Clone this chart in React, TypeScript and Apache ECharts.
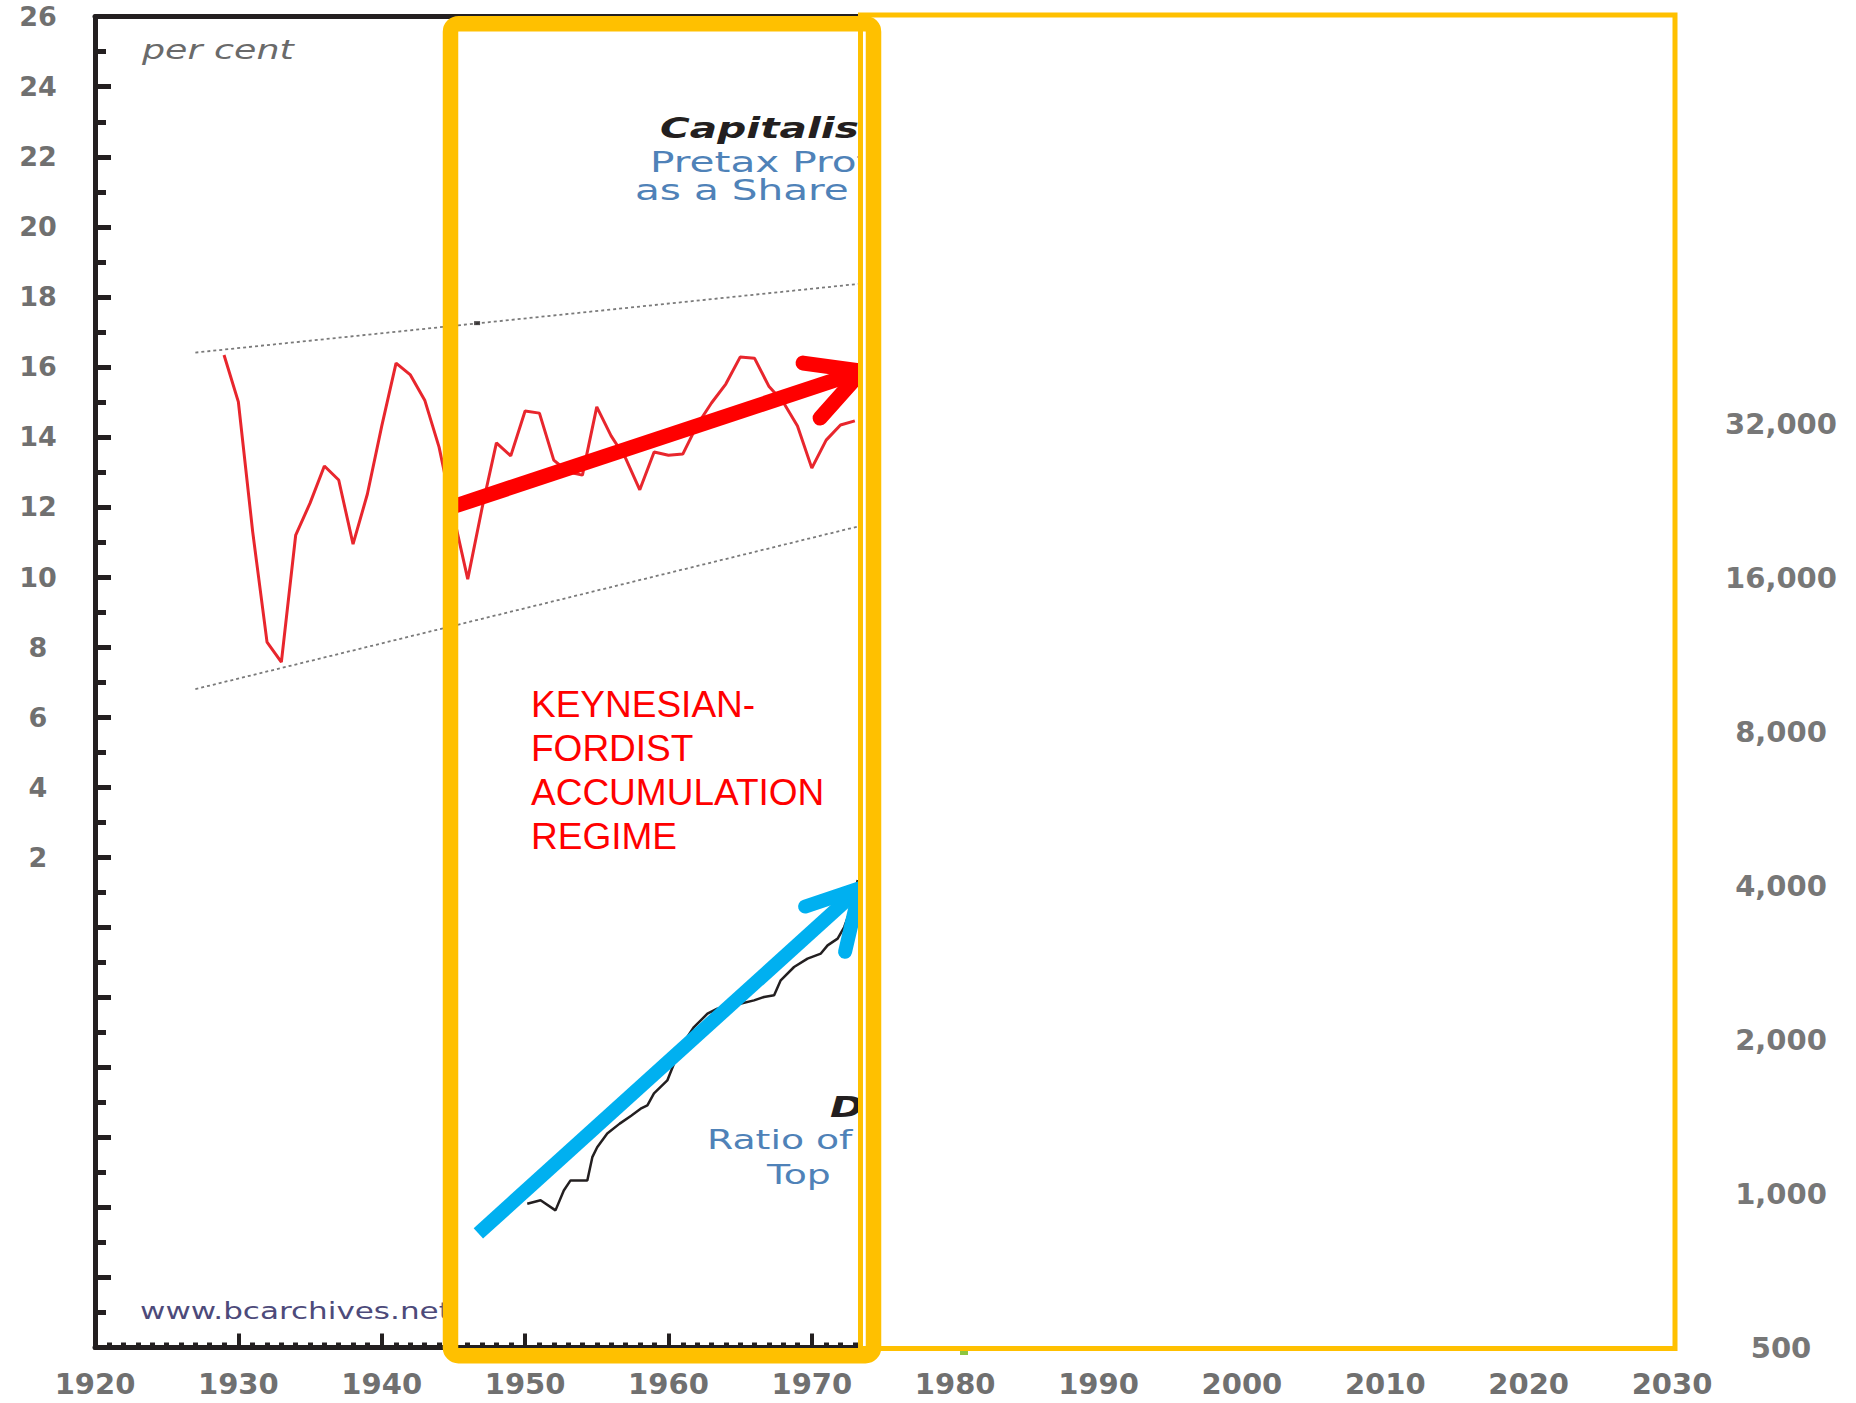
import React, { useEffect, useRef } from 'react';
import * as echarts from 'echarts';

// ---------- data ----------
const leftTickLabels: number[] = [2, 4, 6, 8, 10, 12, 14, 16, 18, 20, 22, 24, 26];
const rightTickLabels: number[] = [500, 1000, 2000, 4000, 8000, 16000, 32000];
const RIGHT_UNIT = 500;

const profitYears: number[] = [
  1929, 1930, 1931, 1932, 1933, 1934, 1935, 1936, 1937, 1938, 1939, 1940, 1941, 1942, 1943,
  1944, 1945, 1946, 1947, 1948, 1949, 1950, 1951, 1952, 1953, 1954, 1955, 1956, 1957, 1958,
  1959, 1960, 1961, 1962, 1963, 1964, 1965, 1966, 1967, 1968, 1969, 1970, 1971, 1972, 1973,
];
const profitShare: number[] = [
  16.34, 15.0, 11.29, 8.14, 7.57, 11.2, 12.11, 13.17, 12.77, 10.94, 12.37, 14.31, 16.11, 15.77, 15.05,
  13.71, 11.77, 9.94, 11.97, 13.83, 13.46, 14.74, 14.68, 13.34, 13.0, 12.91, 14.86, 14.03, 13.4, 12.49,
  13.57, 13.48, 13.51, 14.34, 14.97, 15.51, 16.28, 16.25, 15.45, 15.0, 14.31, 13.11, 13.91, 14.34, 14.46,
];

const ratioYears: number[] = [
  1950.15, 1951.08, 1952.12, 1952.7, 1953.17, 1954.34, 1954.69, 1955.03, 1955.73, 1956.6, 1957.4,
  1958.06, 1958.53, 1958.99, 1959.92, 1960.85, 1961.78, 1962.72, 1963.41, 1964.11, 1965.0, 1965.97,
  1966.67, 1967.37, 1967.83, 1968.76, 1969.7, 1970.63, 1971.1, 1971.8, 1972.26, 1972.8, 1973.2,
];
const ratioValues: number[] = [
  955, 970, 927, 1014, 1061, 1061, 1178, 1232, 1311, 1370, 1420,
  1465, 1487, 1570, 1664, 1934, 2116, 2247, 2298, 2315, 2350, 2386,
  2423, 2441, 2612, 2773, 2880, 2946, 3057, 3151, 3320, 3650, 4100,
];

const upperTrendYears: number[] = [1927, 1973.5];
const upperTrendValues: number[] = [16.41, 18.38];
const lowerTrendYears: number[] = [1927, 1973.5];
const lowerTrendValues: number[] = [6.8, 11.47];

const markYears: number[] = [1946.65];
const markValues: number[] = [17.25];

const redArrowShaftX: number[] = [1944.9, 1973.5];
const redArrowShaftY: number[] = [12.0, 15.88];
const redArrowHeadX: number[] = [1969.39, 1973.5, 1970.58];
const redArrowHeadY: number[] = [16.11, 15.88, 14.54];

const blueArrowShaftX: number[] = [1946.74, 1973.36];
const blueArrowShaftY: number[] = [-8.74, 1.12];
const blueArrowHeadX: number[] = [1969.53, 1973.36, 1972.32];
const blueArrowHeadY: number[] = [0.59, 1.12, -0.7];

const regimeLines: string[] = ['KEYNESIAN-', 'FORDIST', 'ACCUMULATION', 'REGIME'];

// ---------- helpers ----------
const pair = (xs: number[], ys: number[]) => xs.map((x, i) => [x, ys[i]]);

const ORANGE = '#FFC000';
const AXIS_FONT = 'DejaVu Sans';

function buildOption() {
  const stretchedText = (
    text: string,
    x: number,
    y: number,
    size: number,
    fill: string,
    extra: Record<string, unknown> = {},
    scaleX = 1.4,
  ) => ({
    type: 'text',
    x,
    y,
    scaleX,
    z: 50,
    silent: true,
    style: {
      text,
      fill,
      fontFamily: AXIS_FONT,
      fontSize: size,
      verticalAlign: 'middle',
      align: 'left',
      ...extra,
    },
  });

  const graphic: any[] = [
    stretchedText('per cent', 142, 50, 26, '#6a6a6a', { fontStyle: 'italic' }),
    stretchedText('Capitalism', 660, 128, 29, '#231f20', { fontWeight: 'bold', fontStyle: 'italic' }),
    stretchedText('Pretax Profits', 650, 162, 29, '#4f82b8'),
    stretchedText('as a Share of GDP', 635, 190, 29, '#4f82b8'),
    stretchedText('Dow', 830, 1107, 29, '#231f20', { fontWeight: 'bold', fontStyle: 'italic' }),
    stretchedText('Ratio of', 707, 1140, 27, '#4f82b8'),
    stretchedText('Top', 767, 1175, 27, '#4f82b8'),
    stretchedText('www.bcarchives.net', 140, 1311, 23, '#4d4a7a', {}, 1.35),
    ...regimeLines.map((t, i) => ({
      type: 'text',
      x: 531,
      y: 704 + i * 44.3,
      z: 50,
      silent: true,
      style: {
        text: t,
        fill: '#ff0000',
        fontFamily: 'Liberation Sans',
        fontSize: 37,
        verticalAlign: 'middle',
        align: 'left',
      },
    })),
    // white cover over the right half of the original chart
    {
      type: 'rect',
      z: 90,
      silent: true,
      shape: { x: 858, y: 8, width: 815, height: 1338 },
      style: { fill: '#ffffff' },
    },
    // thin orange frame
    {
      type: 'rect',
      z: 95,
      silent: true,
      shape: { x: 860.5, y: 15, width: 814.5, height: 1333.5 },
      style: { fill: 'none', stroke: ORANGE, lineWidth: 5 },
    },
    // thick orange frame
    {
      type: 'rect',
      z: 100,
      silent: true,
      shape: { x: 450.5, y: 23.7, width: 423, height: 1332, r: 8 },
      style: { fill: 'none', stroke: ORANGE, lineWidth: 15.5 },
    },
    {
      type: 'rect',
      z: 100,
      silent: true,
      shape: { x: 960, y: 1351, width: 8, height: 4 },
      style: { fill: '#8dc63f' },
    },
  ];

  const labelBase = {
    fontFamily: AXIS_FONT,
    fontWeight: 'bold',
    color: '#707070',
  };

  return {
    animation: false,
    backgroundColor: '#ffffff',
    grid: { left: 95, right: 184, top: 16.7, bottom: 55.5, containLabel: false },
    xAxis: [
      {
        type: 'value',
        min: 1920,
        max: 2030,
        interval: 10,
        position: 'bottom',
        axisLine: { show: true, onZero: false, lineStyle: { color: '#231f20', width: 5 } },
        axisTick: { show: true, inside: true, length: 14, lineStyle: { color: '#231f20', width: 4 } },
        minorTick: { show: true, splitNumber: 10, length: 5, lineStyle: { color: '#231f20', width: 5 } },
        splitLine: { show: false },
        axisLabel: {
          ...labelBase,
          show: true,
          margin: 22,
          fontSize: 29,
          formatter: (v: number) => String(v),
        },
      },
      {
        type: 'value',
        min: 1920,
        max: 2030,
        interval: 10,
        position: 'top',
        axisLine: { show: true, onZero: false, lineStyle: { color: '#231f20', width: 5 } },
        axisTick: { show: false },
        axisLabel: { show: false },
        splitLine: { show: false },
      },
    ],
    yAxis: [
      {
        type: 'value',
        min: -12,
        max: 26,
        interval: 2,
        position: 'left',
        axisLine: { show: true, onZero: false, lineStyle: { color: '#231f20', width: 5 } },
        axisTick: { show: true, inside: true, length: 16, lineStyle: { color: '#231f20', width: 5 } },
        minorTick: { show: true, splitNumber: 2, length: 11, lineStyle: { color: '#231f20', width: 5 } },
        splitLine: { show: false },
        axisLabel: {
          ...labelBase,
          show: true,
          align: 'center',
          margin: 57,
          fontSize: 27,
          formatter: (v: number) => (leftTickLabels.includes(v) ? String(v) : ''),
        },
      },
      {
        type: 'log',
        logBase: 2,
        min: 1,
        max: 400,
        position: 'right',
        axisLine: { show: false, onZero: false },
        axisTick: { show: false },
        splitLine: { show: false },
        axisLabel: {
          ...labelBase,
          color: '#777777',
          show: true,
          align: 'center',
          margin: 109,
          fontSize: 29,
          formatter: (v: number) => {
            const real = Math.round(v * RIGHT_UNIT);
            return rightTickLabels.includes(real) ? real.toLocaleString('en-US') : '';
          },
        },
      },
    ],
    series: [
      {
        type: 'line',
        data: pair(upperTrendYears, upperTrendValues),
        symbol: 'none',
        silent: true,
        z: 2,
        lineStyle: { color: '#7a7a7a', width: 1.8, type: [3, 3] },
      },
      {
        type: 'line',
        data: pair(lowerTrendYears, lowerTrendValues),
        symbol: 'none',
        silent: true,
        z: 2,
        lineStyle: { color: '#7a7a7a', width: 1.8, type: [3, 3] },
      },
      {
        type: 'line',
        name: 'Pretax profits share',
        data: pair(profitYears, profitShare),
        symbol: 'none',
        silent: true,
        z: 3,
        lineStyle: { color: '#e8262d', width: 3 },
      },
      {
        type: 'line',
        name: 'Ratio',
        yAxisIndex: 1,
        data: ratioYears.map((x, i) => [x, ratioValues[i] / RIGHT_UNIT]),
        symbol: 'none',
        silent: true,
        z: 3,
        lineStyle: { color: '#231f20', width: 2.5 },
      },
      {
        type: 'scatter',
        data: pair(markYears, markValues),
        symbol: 'rect',
        symbolSize: [6, 4],
        silent: true,
        z: 3,
        itemStyle: { color: '#231f20' },
      },
      {
        type: 'line',
        data: pair(redArrowShaftX, redArrowShaftY),
        symbol: 'none',
        silent: true,
        z: 5,
        lineStyle: { color: '#ff0000', width: 15, cap: 'butt' },
      },
      {
        type: 'line',
        data: pair(redArrowHeadX, redArrowHeadY),
        symbol: 'none',
        silent: true,
        z: 5,
        lineStyle: { color: '#ff0000', width: 15, cap: 'round', join: 'round' },
      },
      {
        type: 'line',
        data: pair(blueArrowShaftX, blueArrowShaftY),
        symbol: 'none',
        silent: true,
        z: 5,
        lineStyle: { color: '#00b0f0', width: 14, cap: 'butt' },
      },
      {
        type: 'line',
        data: pair(blueArrowHeadX, blueArrowHeadY),
        symbol: 'none',
        silent: true,
        z: 5,
        lineStyle: { color: '#00b0f0', width: 14, cap: 'round', join: 'round' },
      },
    ],
    graphic,
  };
}

export default function App() {
  const ref = useRef<HTMLDivElement>(null);
  useEffect(() => {
    if (!ref.current) return;
    const chart = echarts.init(ref.current, null, { renderer: 'svg' });
    chart.setOption(buildOption() as any);
    return () => {
      chart.dispose();
    };
  }, []);
  return (
    <div
      ref={ref}
      style={{ position: 'absolute', left: 0, top: 0, width: 1856, height: 1403, background: '#ffffff' }}
    />
  );
}
